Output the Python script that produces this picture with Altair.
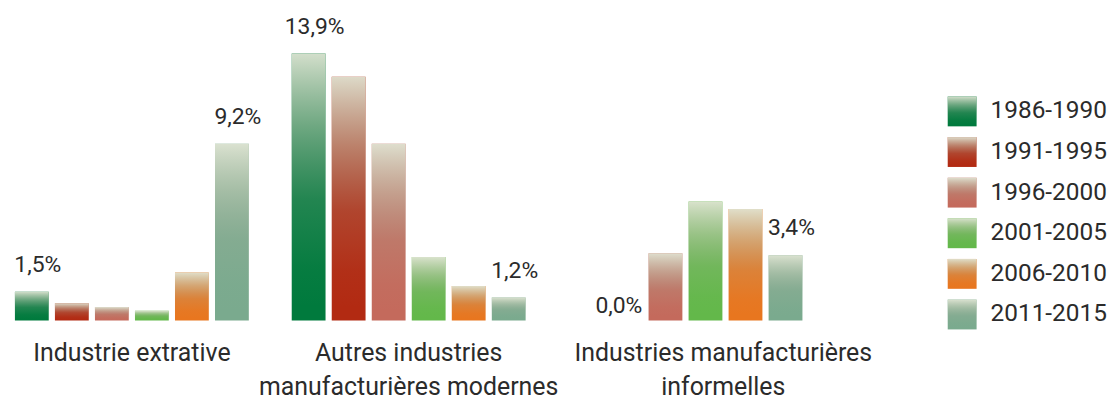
import altair as alt
import pandas as pd

categories = [
    "Industrie extrative",
    "Autres industries\nmanufacturières modernes",
    "Industries manufacturières\ninformelles",
]
periods = ["1986-1990", "1991-1995", "1996-2000", "2001-2005", "2006-2010", "2011-2015"]
colors = ["#007a3d", "#b22a12", "#c46a5c", "#63b84a", "#e8761f", "#7aaa8e"]

values_extractive = [1.5, 0.9, 0.7, 0.5, 2.5, 9.2]
values_modernes = [13.9, 12.7, 9.2, 3.3, 1.8, 1.2]
values_informelles = [None, 0.0, 3.5, 6.2, 5.8, 3.4]

rows = []
for cat, vals in zip(categories, [values_extractive, values_modernes, values_informelles]):
    present = [i for i, v in enumerate(vals) if v is not None]
    for i, (p, v) in enumerate(zip(periods, vals)):
        if v is None:
            continue
        rows.append({
            "categorie": cat,
            "periode": p,
            "valeur": v,
            "etiquette": i in (present[0], present[-1]),
        })
df = pd.DataFrame(rows)

FONT = "Roboto"
TXT = "#2b2b2b"
gradient = alt.Gradient(
    gradient="linear",
    stops=[
        alt.GradientStop(color="rgba(224,229,212,0.94)", offset=0),
        alt.GradientStop(color="rgba(196,203,182,0.55)", offset=0.28),
        alt.GradientStop(color="rgba(170,178,158,0.2)", offset=0.55),
        alt.GradientStop(color="rgba(170,178,158,0.04)", offset=0.8),
        alt.GradientStop(color="rgba(170,178,158,0)", offset=0.95),
    ],
    x1=0, x2=0, y1=0, y2=1,
)

x_enc = alt.X(
    "categorie:N",
    sort=categories,
    scale=alt.Scale(paddingInner=0.155, paddingOuter=0.025),
    axis=alt.Axis(
        title=None, labelAngle=0, domain=False, ticks=False, grid=False,
        labelFont=FONT, labelFontSize=25, labelColor=TXT, labelPadding=20,
        labelLineHeight=34, labelLimit=500,
        labelExpr="split(datum.label, '\\n')",
        labelOffset={"condition": {"test": "indexof(datum.value, 'informelles') >= 0", "value": 38}, "value": 0},
    ),
)
xoff = alt.XOffset("periode:N", sort=periods, scale=alt.Scale(paddingInner=0.155, paddingOuter=0))
y_enc = alt.Y("valeur:Q", scale=alt.Scale(domain=[0, 16.23], nice=False), axis=None)

base = alt.Chart(df).encode(x=x_enc, xOffset=xoff, y=y_enc)

bars = base.mark_bar().encode(
    color=alt.Color("periode:N", sort=periods, scale=alt.Scale(domain=periods, range=colors), legend=None)
)
overlay = base.mark_bar(fill=gradient)

labels = base.transform_filter(
    "datum.etiquette && datum.valeur > 0"
).transform_calculate(
    txt="replace(format(datum.valeur, '.1f'), '.', ',') + '%'"
).mark_text(
    font=FONT, fontSize=23, color=TXT, align="center", baseline="alphabetic", dx=6, dy=-20
).encode(text="txt:N")

zero_labels = base.transform_filter(
    "datum.etiquette && datum.valeur == 0"
).transform_calculate(
    txt="replace(format(datum.valeur, '.1f'), '.', ',') + '%'"
).mark_text(
    font=FONT, fontSize=23, color=TXT, align="right", baseline="alphabetic", dx=17, dy=-8
).encode(text="txt:N")

main = alt.layer(bars, overlay, labels, zero_labels).properties(width=805, height=313)

leg_df = pd.DataFrame({"periode": periods})
ly = alt.Y("periode:N", sort=periods, axis=None,
           scale=alt.Scale(paddingInner=0.265, paddingOuter=0, range=[88, 322]))
leg_base = alt.Chart(leg_df).encode(y=ly)
leg_rect = leg_base.mark_rect().encode(
    x=alt.value(0), x2=alt.value(29),
    color=alt.Color("periode:N", sort=periods, scale=alt.Scale(domain=periods, range=colors), legend=None),
)
leg_over = leg_base.mark_rect(fill=gradient).encode(x=alt.value(0), x2=alt.value(29))
leg_text = leg_base.mark_text(
    font=FONT, fontSize=24.5, color=TXT, align="left", baseline="middle"
).encode(x=alt.value(43), text="periode:N")
legend = alt.layer(leg_rect, leg_over, leg_text).properties(width=150, height=322)

chart = alt.hconcat(main, legend, spacing=76).properties(padding=0).configure_view(stroke=None)

chart.save("out.html", embed_options={"renderer": "svg", "actions": False})
